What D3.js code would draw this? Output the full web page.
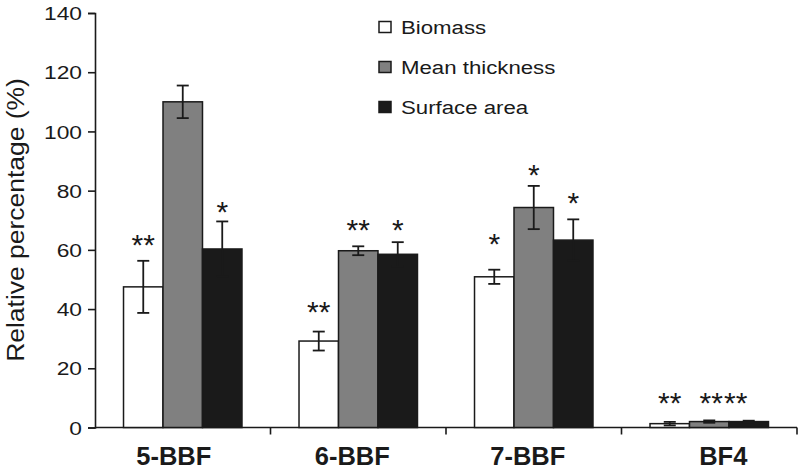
<!DOCTYPE html>
<html>
<head>
<meta charset="utf-8">
<script src="https://cdn.jsdelivr.net/npm/d3@7"></script>
<style>
  body { margin: 0; background: #fff; }
  text { font-family: "Liberation Sans", Arial, sans-serif; fill: #1a1a1a; }
</style>
</head>
<body>
<div id="chart"></div>
<script>
// values (relative percentage, %)
var categories = ["5-BBF", "6-BBF", "7-BBF", "BF4"]
var seriesNames = ["Biomass", "Mean thickness", "Surface area"]
var biomass = [47.5, 29.2, 50.9, 1.3]
var biomassErr = [8.8, 3.2, 2.4, 0.6]
var thickness = [110, 59.7, 74.3, 2.0]
var thicknessErr = [5.5, 1.5, 7.3, 0.4]
var area = [60.3, 58.5, 63.3, 2.0]
var areaErr = [9.3, 4.1, 7.0, 0.3]
// significance marks and the height (in %) where each one sits
var biomassStars = ["**", "**", "*", "**"]
var thicknessStars = ["", "**", "*", "**"]
var areaStars = ["*", "*", "*", "**"]
var biomassStarAt = [64.0, 41.3, 64.4, 10.8]
var thicknessStarAt = [0, 69.1, 87.6, 10.8]
var areaStarAt = [75.1, 69.1, 78.2, 10.8]
var yTicks = [0, 20, 40, 60, 80, 100, 120, 140]

var fills = ["#ffffff", "#808080", "#1a1a1a"]

var width = 800, height = 470
var plotLeft = 95, plotRight = 797, plotTop = 13, plotBottom = 427.5

var series = [
    {name: seriesNames[0], values: biomass, err: biomassErr, stars: biomassStars, starAt: biomassStarAt},
    {name: seriesNames[1], values: thickness, err: thicknessErr, stars: thicknessStars, starAt: thicknessStarAt},
    {name: seriesNames[2], values: area, err: areaErr, stars: areaStars, starAt: areaStarAt}
]

var rows = []
categories.forEach(function(c, i) {
    series.forEach(function(s, j) {
        rows.push({cat: c, s: j, value: s.values[i], err: s.err[i], star: s.stars[i], starAt: s.starAt[i]})
    })
})

var svg = d3.select("#chart").append("svg").attr("width", width).attr("height", height)

var x0 = d3.scaleBand().domain(categories).range([plotLeft, plotRight]).paddingInner(0.325).paddingOuter(0.1625)
var x1 = d3.scaleBand().domain([0, 1, 2]).range([0, x0.bandwidth()])
var y = d3.scaleLinear().domain([0, 140]).range([plotBottom, plotTop])

// y axis
var yAxis = svg.append("g").attr("transform", "translate(" + plotLeft + ",0)")
    .call(d3.axisLeft(y).tickValues(yTicks).tickSize(7).tickPadding(0))
yAxis.select(".domain").attr("stroke", "#1a1a1a").attr("stroke-width", 1.6)
yAxis.selectAll(".tick line").attr("stroke", "#1a1a1a").attr("stroke-width", 1.6)
yAxis.selectAll(".tick text")
    .attr("x", 0).attr("dy", "0.35em")
    .attr("transform", "translate(-13,0) scale(1.2,1)")
    .style("font-size", "19px").style("font-family", "Liberation Sans, Arial, sans-serif")
    .attr("fill", "#1a1a1a")

// x axis line and category boundary ticks
svg.append("line").attr("x1", plotLeft).attr("x2", plotRight).attr("y1", y(0)).attr("y2", y(0))
    .attr("stroke", "#1a1a1a").attr("stroke-width", 1.6)
var step = x0.step()
svg.selectAll(".cattick").data(categories).enter().append("line")
    .attr("class", "cattick")
    .attr("x1", function(d) { return x0(d) - step * 0.1625 + step })
    .attr("x2", function(d) { return x0(d) - step * 0.1625 + step })
    .attr("y1", y(0)).attr("y2", y(0) + 7)
    .attr("stroke", "#1a1a1a").attr("stroke-width", 1.6)

// category labels (the reference sets them slightly off centre)
var labelNudge = {"5-BBF": -9, "6-BBF": -6, "7-BBF": -6, "BF4": 14}
svg.selectAll(".catlabel").data(categories).enter().append("text")
    .attr("class", "catlabel")
    .attr("x", function(d) { return x0(d) + x0.bandwidth() / 2 + labelNudge[d] })
    .attr("y", 465)
    .attr("text-anchor", "middle")
    .style("font-size", "25.5px").style("font-weight", "bold")
    .text(function(d) { return d })

// axis title
svg.append("text")
    .attr("transform", "translate(24,220) rotate(-90) scale(1.08,1)")
    .attr("text-anchor", "middle")
    .style("font-size", "24.5px")
    .text("Relative percentage (%)")

// bars
svg.selectAll(".bar").data(rows).enter().append("rect")
    .attr("class", "bar")
    .attr("x", function(d) { return x0(d.cat) + x1(d.s) })
    .attr("width", x1.bandwidth())
    .attr("y", function(d) { return y(d.value) })
    .attr("height", function(d) { return y(0) - y(d.value) })
    .attr("fill", function(d) { return fills[d.s] })
    .attr("stroke", "#1a1a1a").attr("stroke-width", 1.5)

// error bars
var cap = 6
var eb = svg.selectAll(".err").data(rows).enter().append("g").attr("class", "err")
    .attr("stroke", "#1a1a1a").attr("stroke-width", 1.8)
eb.append("line")
    .attr("x1", function(d) { return x0(d.cat) + x1(d.s) + x1.bandwidth() / 2 })
    .attr("x2", function(d) { return x0(d.cat) + x1(d.s) + x1.bandwidth() / 2 })
    .attr("y1", function(d) { return y(d.value + d.err) })
    .attr("y2", function(d) { return y(d.value - d.err) })
eb.selectAll(".capline").data(function(d) { return [d.value + d.err, d.value - d.err].map(function(v) { return {d: d, v: v} }) })
    .enter().append("line").attr("class", "capline")
    .attr("x1", function(e) { return x0(e.d.cat) + x1(e.d.s) + x1.bandwidth() / 2 - cap })
    .attr("x2", function(e) { return x0(e.d.cat) + x1(e.d.s) + x1.bandwidth() / 2 + cap })
    .attr("y1", function(e) { return y(e.v) })
    .attr("y2", function(e) { return y(e.v) })

// significance stars
var starNudge = {"BF4-1": 2, "BF4-2": -13}
svg.selectAll(".star").data(rows.filter(function(d) { return d.star })).enter().append("text")
    .attr("class", "star")
    .attr("x", function(d) { return x0(d.cat) + x1(d.s) + x1.bandwidth() / 2 + (starNudge[d.cat + "-" + d.s] || 0) })
    .attr("y", function(d) { return y(d.starAt) + 17 })
    .attr("text-anchor", "middle")
    .style("font-size", "30px")
    .text(function(d) { return d.star })

// legend
var legend = svg.selectAll(".legend").data(series).enter().append("g")
    .attr("class", "legend")
    .attr("transform", function(d, i) { return "translate(379," + (27 + i * 40) + ")" })
legend.append("rect")
    .attr("x", 0).attr("y", -5.5).attr("width", 12).attr("height", 11)
    .attr("fill", function(d, i) { return fills[i] })
    .attr("stroke", "#1a1a1a").attr("stroke-width", 1.5)
legend.append("text")
    .attr("transform", "translate(22,7) scale(1.17,1)")
    .style("font-size", "19px")
    .text(function(d) { return d.name })
</script>
</body>
</html>
